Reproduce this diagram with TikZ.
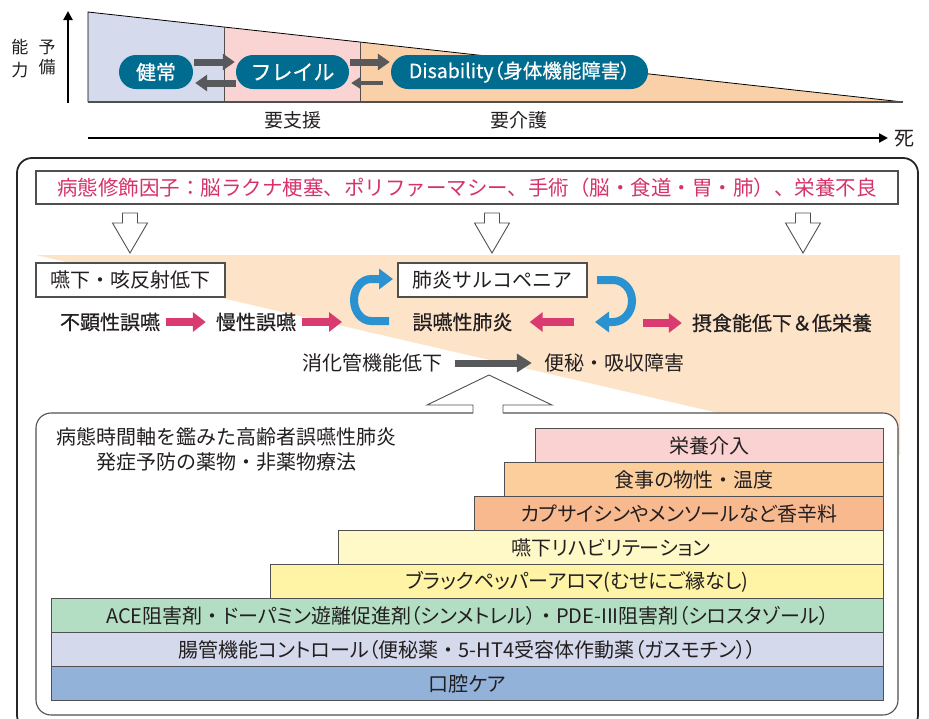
\documentclass[tikz,border=0pt]{standalone}
\usepackage{fontspec}
\setmainfont{Noto Sans CJK JP}
\newfontfamily\jpr{Noto Sans CJK JP}
\newfontfamily\jpmd[FakeBold=0.6]{Noto Sans CJK JP}
\newfontfamily\jpp[RawFeature=+palt]{Noto Sans CJK JP}
\newfontfamily\jppm[RawFeature=+palt,FakeBold=0.6]{Noto Sans CJK JP}
\usetikzlibrary{arrows.meta}
\definecolor{pillc}{RGB}{0,108,143}
\definecolor{garr}{RGB}{88,89,91}
\definecolor{pinkc}{RGB}{214,51,108}
\definecolor{pinka}{RGB}{217,58,112}
\definecolor{bluea}{RGB}{43,146,210}
\definecolor{orbg}{RGB}{253,227,199}
\definecolor{triA}{RGB}{213,218,236}
\definecolor{triB}{RGB}{249,212,210}
\definecolor{triC}{RGB}{250,208,168}
\definecolor{stA}{RGB}{250,210,210}
\definecolor{stB}{RGB}{252,206,156}
\definecolor{stC}{RGB}{248,185,143}
\definecolor{stD}{RGB}{255,249,200}
\definecolor{stE}{RGB}{255,244,166}
\definecolor{stF}{RGB}{180,222,195}
\definecolor{stG}{RGB}{212,217,236}
\definecolor{stH}{RGB}{146,178,218}
\definecolor{linec}{RGB}{80,80,80}
\definecolor{txt}{RGB}{35,31,32}
\newcommand\myfs[1]{\fontsize{#1}{#1}\selectfont}
\newcommand\nkt{{\jpr ・}}
\tikzset{
  hdown/.pic={\draw[draw=linec,line width=0.9pt,fill=white,line join=miter] (-7.5,0) -- (-7.5,10) -- (-17.5,10) -- (0,40) -- (17.5,10) -- (7.5,10) -- (7.5,0) -- cycle;}
}
\begin{document}
\begin{tikzpicture}[x=1pt,y=-1pt,
  pill/.style={fill=pillc,text=white,rounded corners=17pt,minimum height=34pt,inner sep=0pt,font=\jpmd\myfs{20}},
  garrow/.style={draw=garr,line width=7pt,-{Triangle[length=12pt,width=16pt]}},
  garrowsm/.style={draw=garr,line width=4pt,-{Triangle[length=9pt,width=11pt]}},
  parrow/.style={draw=pinka,line width=8pt,-{Triangle[length=13pt,width=19pt]}},
  barrow/.style={draw=bluea,line width=8pt,-{Triangle[length=14pt,width=20pt]}},
  box/.style={draw=linec,line width=1.1pt,fill=white,inner sep=0pt},
  rowtxt/.style={inner sep=0pt,text=txt,font=\jpmd\myfs{20}},
  plaintxt/.style={inner sep=0pt,text=txt,font=\jpr\myfs{20}},
  stair/.style={draw=linec,line width=1.1pt,minimum height=34pt,inner sep=0pt,anchor=north west,text=txt,font=\jpp\myfs{20}},
  axisarrow/.style={line width=2.5pt,-{Triangle[length=9pt,width=9pt]}}
]
\useasboundingbox (0,0) rectangle (929,718);

% ---------- top triangle ----------
\fill[triA] (88,12) -- (224,27.02) -- (224,102) -- (88,102) -- cycle;
\fill[triB] (224,27.02) -- (360,42.04) -- (360,102) -- (224,102) -- cycle;
\fill[triC] (360,42.04) -- (903,102) -- (360,102) -- cycle;
\draw[line width=0.8pt] (88,102) -- (88,12) -- (903,102);
\draw[linec,line width=0.8pt] (224,27.02) -- (224,102) (360,42.04) -- (360,102);
\draw[linec,line width=1.8pt] (88,102) -- (903,102);

\coordinate (vb) at (68,103);
\coordinate (vt) at (68,11);
\draw[axisarrow] (vb) -- (vt);
\node[plaintxt,font=\jpr\myfs{17}] (c1) at (20,47) {能};
\node[plaintxt,font=\jpr\myfs{17}] (c2) at (20,70) {力};
\node[plaintxt,font=\jpr\myfs{17}] (c3) at (47,47) {予};
\node[plaintxt,font=\jpr\myfs{17}] (c4) at (47,67) {備};

\coordinate (ax0) at (88,138);
\coordinate (ax1) at (888,138);
\draw[axisarrow] (ax0) -- (ax1);
\node[plaintxt] (death) at (904,139) {死};
\node[plaintxt,font=\jpr\myfs{19}] (ys) at (293,120) {要支援};
\node[plaintxt,font=\jpr\myfs{19}] (yk) at (519,120) {要介護};

\node[pill,minimum width=74pt] (hl) at (156,72) {健常};
\node[pill,minimum width=113pt,font=\jpmd\myfs{21}] (fr) at (292.5,72) {フレイル};
\node[pill,minimum width=257pt,font=\jppm\myfs{19.5}] (ds) at (519.5,72) {Disability（身体機能障害）};

\draw[garrow] ([yshift=10pt,xshift=1pt]hl.east) -- ([yshift=10pt,xshift=-1pt]fr.west);
\draw[garrow] ([yshift=-11pt]fr.west) -- ([yshift=-11pt,xshift=2pt]hl.east);
\draw[garrow] ([yshift=10pt,xshift=1pt]fr.east) -- ([yshift=10pt,xshift=-1pt]ds.west);
\draw[garrowsm] ([yshift=-11pt,xshift=-8pt]ds.west) -- ([yshift=-11pt,xshift=2pt]fr.east);

% ---------- outer box ----------
\draw[line width=1.8pt,draw=black!85,rounded corners=15pt] (17,158) rectangle (918,730);

\node[box,minimum width=862pt,minimum height=33pt,text=pinkc,font=\jpr\myfs{20.5}] (hdr) at (467,187.5)
  {病態修飾因子：脳ラクナ梗塞、ポリファーマシー、手術（脳・食道・胃・肺）、栄養不良};

\pic at (130,213) {hdown};
\pic at (492,213) {hdown};
\pic at (803,213) {hdown};

\fill[orbg] (36,255) -- (900,255) -- (900,455) -- cycle;

\node[box,minimum width=189pt,minimum height=34pt,text=txt,font=\jpr\myfs{20}] (sw) at (130.5,280) {嚥下・咳反射低下};
\node[box,minimum width=189pt,minimum height=34pt,text=txt,font=\jpr\myfs{20}] (sc) at (492.5,280) {肺炎サルコペニア};

\node[rowtxt] (n1) at (110,322) {不顕性誤嚥};
\node[rowtxt] (n2) at (256,322) {慢性誤嚥};
\node[rowtxt] (n3) at (462.5,322) {誤嚥性肺炎};
\node[rowtxt] (n4) at (782,323) {摂食能低下＆低栄養};

\coordinate (p2e) at (342,322);
\coordinate (p3s) at (574,322);
\coordinate (p4s) at (643,323);
\draw[parrow] ([xshift=6pt]n1.east) -- ([xshift=-10pt]n2.west);
\draw[parrow] ([xshift=6pt]n2.east) -- (p2e);
\draw[parrow] (p3s) -- ([xshift=17pt]n3.east);
\draw[parrow] (p4s) -- ([xshift=-10pt]n4.west);

\draw[barrow] (389,321) -- (371,321) arc[start angle=90,end angle=270,x radius=17,y radius=21] -- (393,279);
\draw[barrow] (597,280) -- (613,280) arc[start angle=-90,end angle=90,x radius=19,y radius=21] -- (595,322);

\node[plaintxt] (dg) at (372.5,363) {消化管機能低下};
\node[plaintxt] (cs) at (614,363) {便秘・吸収障害};
\draw[draw=garr,line width=7pt,-{Triangle[length=15pt,width=18pt]}] ([xshift=12pt]dg.east) -- ([xshift=-12pt]cs.west);

% ---------- inner box ----------
\draw[linec,line width=1.1pt,fill=white,rounded corners=15pt] (36,413) rectangle (898,715);
\fill[white] (473,416) -- (473,405) -- (427,405) -- (489,375) -- (552,405) -- (503,405) -- (503,416) -- cycle;
\draw[linec,line width=0.9pt,line join=miter] (473,413) -- (473,405) -- (427,405) -- (489,375) -- (552,405) -- (503,405) -- (503,413);

\node[plaintxt] (h1) at (226,437) {病態時間軸を鑑みた高齢者誤嚥性肺炎};
\node[plaintxt] (h2) at (226,462) {発症予防の薬物・非薬物療法};

\node[stair,fill=stA,minimum width=348pt] (s1) at (535,428) {栄養介入};
\node[stair,fill=stB,minimum width=379pt] (s2) at (504,462) {食事の物性\nkt 温度};
\node[stair,fill=stC,minimum width=409pt] (s3) at (474,496) {カプサイシンやメンソールなど香辛料};
\node[stair,fill=stD,minimum width=545pt] (s4) at (338,530) {嚥下リハビリテーション};
\node[stair,fill=stE,minimum width=613pt] (s5) at (270,564) {ブラックペッパーアロマ(むせにご縁なし)};
\node[stair,fill=stF,minimum width=832pt] (s6) at (51,598) {ACE阻害剤\nkt ドーパミン遊離促進剤（シンメトレル）\nkt PDE-III阻害剤（シロスタゾール）};
\node[stair,fill=stG,minimum width=832pt] (s7) at (51,632) {腸管機能コントロール（便秘薬\nkt 5-HT4受容体作動薬（ガスモチン））};
\node[stair,fill=stH,minimum width=832pt] (s8) at (51,666) {口腔ケア};
\end{tikzpicture}
\end{document}
